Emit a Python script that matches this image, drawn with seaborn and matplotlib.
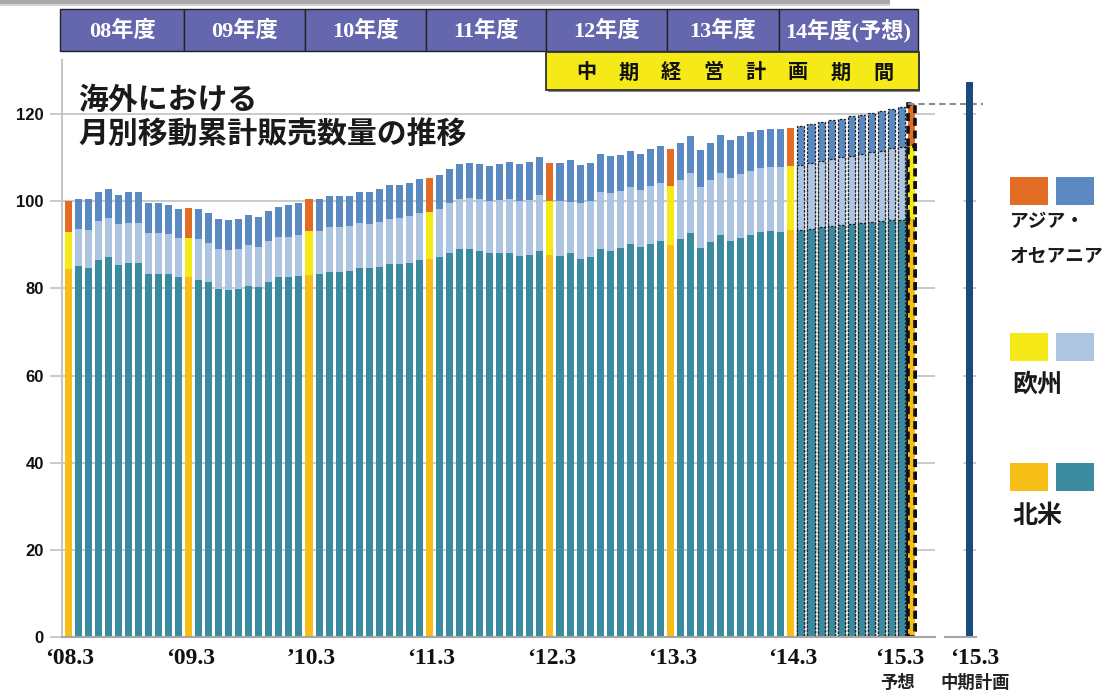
import numpy as np
import pandas as pd
import matplotlib
matplotlib.use("Agg")
import matplotlib.pyplot as plt
import matplotlib.transforms as mtransforms
from matplotlib.patches import Rectangle
import seaborn as sns

# ---------------- data ----------------
months = [str(p) for p in pd.period_range("2008-03", "2015-03", freq="M")]

na_vals = [84.4, 85.1, 84.7, 86.6, 87.1, 85.4, 85.8, 85.8, 83.4, 83.2, 83.2, 82.5,
           82.5, 82.0, 81.5, 79.9, 79.7, 79.9, 80.6, 80.2, 81.5, 82.5, 82.5, 82.8,
           83.1, 83.2, 83.7, 83.8, 84.0, 84.7, 84.7, 84.9, 85.6, 85.6, 85.8, 86.5,
           86.8, 87.1, 88.2, 89.1, 89.1, 88.6, 88.2, 88.2, 88.2, 87.5, 87.7, 88.6,
           87.7, 87.5, 88.0, 86.8, 87.3, 89.1, 88.6, 89.3, 90.2, 89.5, 90.2, 90.9,
           90.0, 91.3, 92.7, 89.3, 90.6, 92.2, 90.9, 91.6, 92.2, 92.9, 93.1, 92.9,
           93.3, 93.5, 93.7, 94.1, 94.3, 94.5, 94.8, 95.0, 95.2, 95.5, 95.7, 95.8,
           95.9]
eu_vals = [8.6, 8.5, 8.7, 8.9, 9.1, 9.4, 9.2, 9.2, 9.3, 9.5, 9.3, 9.1,
           9.1, 9.3, 8.9, 9.1, 9.0, 9.1, 9.3, 9.2, 9.4, 9.3, 9.3, 9.4,
           10.1, 10.0, 10.3, 10.2, 10.2, 10.2, 10.1, 10.4, 10.3, 10.6, 10.7, 10.9,
           10.8, 11.0, 11.5, 11.5, 11.6, 11.8, 11.9, 12.1, 12.3, 12.5, 12.6, 12.9,
           12.3, 12.5, 11.8, 12.8, 12.7, 13.1, 13.3, 13.0, 13.1, 13.1, 13.3, 13.3,
           13.5, 13.6, 13.8, 14.0, 14.3, 14.3, 14.4, 14.6, 14.7, 14.7, 14.7, 14.9,
           14.8, 14.9, 15.1, 15.1, 15.3, 15.6, 15.6, 15.8, 16.1, 16.1, 16.4, 16.6,
           16.7]
asia_vals = [7.0, 7.0, 7.0, 6.7, 6.7, 6.7, 7.0, 7.0, 6.8, 6.8, 6.7, 6.7,
             6.8, 6.8, 6.8, 6.9, 7.0, 6.9, 7.0, 7.0, 6.9, 6.9, 7.4, 7.3,
             7.3, 7.2, 7.1, 7.1, 7.1, 7.1, 7.4, 7.4, 7.8, 7.5, 7.7, 7.7,
             7.7, 7.8, 7.7, 8.0, 8.1, 8.1, 7.9, 8.2, 8.4, 8.5, 8.6, 8.6,
             8.8, 8.7, 9.6, 8.7, 8.7, 8.6, 8.5, 8.4, 8.3, 8.3, 8.4, 8.4,
             8.5, 8.5, 8.5, 8.4, 8.5, 8.7, 8.7, 8.8, 9.0, 8.7, 8.8, 8.8,
             8.7, 8.9, 8.9, 9.0, 9.0, 8.8, 9.2, 9.0, 9.0, 9.2, 9.1, 9.3,
             9.6]
plan_label = ["中期計画"]
plan_total = [127.3]

fy_labels = ["08年度", "09年度", "10年度", "11年度", "12年度", "13年度", "14年度(予想)"]
xtick_labels = ["\u201808.3", "\u201809.3", "\u201910.3", "\u201811.3",
                "\u201812.3", "\u201813.3", "\u201814.3", "\u201815.3"]
plan_tick = "\u201815.3"
y_ticks = [0, 20, 40, 60, 80, 100, 120]
legend_names = ["アジア・\nオセアニア", "欧州", "北米"]

# ---------------- style ----------------
ASIA_N, ASIA_H = "#5B89C2", "#E36C25"
EU_N, EU_H = "#ADC5E1", "#F5EA17"
NA_N, NA_H = "#3A8BA0", "#F7BE18"
PLAN_C = "#1B4A7F"
HEAD_C = "#6567AE"
GRID_C = "#C6C6C6"

W, H, DPI = 1108, 691, 100
sns.set_theme(style="white")
plt.rcParams["font.family"] = ["Noto Sans CJK JP", "DejaVu Sans"]

fig = plt.figure(figsize=(W / DPI, H / DPI), dpi=DPI)
fig.patch.set_facecolor("white")


def fx(x):
    return x / W


def fy(y):
    return 1 - y / H


AX_L, AX_R, AX_B, AX_T = 62, 935, 637, 60
ax = fig.add_axes([fx(AX_L), fy(AX_B), (AX_R - AX_L) / W, (AX_B - AX_T) / H])
ax2 = fig.add_axes([fx(945), fy(AX_B), (976 - 945) / W, (AX_B - AX_T) / H])
YMAX = (AX_B - AX_T) / 4.358

df = pd.DataFrame({"month": months, "na": na_vals, "eu": eu_vals, "asia": asia_vals})
df["eu_top"] = df["na"] + df["eu"]
df["total"] = df["eu_top"] + df["asia"]
is_march = df["month"].str.endswith("-03").to_numpy()
is_fc = (df["month"] > "2014-03").to_numpy()
last = len(df) - 1

layers = [("total", ASIA_N, ASIA_H), ("eu_top", EU_N, EU_H), ("na", NA_N, NA_H)]
for col, cn, ch in layers:
    pal = {m: (ch if mk else cn) for m, mk in zip(df["month"], is_march)}
    n0 = len(ax.patches)
    sns.barplot(data=df, x="month", y=col, hue="month", palette=pal, legend=False,
                dodge=False, width=0.7, errorbar=None, saturation=1, ax=ax)
    for p in ax.patches[n0:]:
        i = int(round(p.get_x() + p.get_width() / 2))
        p.set_linewidth(0)
        if is_fc[i]:
            if i == last:
                p.set_edgecolor("#111111")
                p.set_linewidth(2.6)
                p.set_linestyle((0, (2.2, 1.3)))
            else:
                p.set_edgecolor("#222222")
                p.set_linewidth(0.9)
                p.set_linestyle((0, (2.0, 1.2)))

ax.set_xlim(-0.6, 86.35)
ax.set_ylim(0, YMAX)
ax.set_axisbelow(True)
ax.yaxis.grid(True, color=GRID_C, lw=1.3)
ax.xaxis.grid(False)
ax.set_yticks(y_ticks)
ax.set_yticklabels([str(t) for t in y_ticks], fontsize=12, fontweight="bold",
                   family=["Liberation Sans", "DejaVu Sans"], color="#111111")
ax.tick_params(axis="y", length=9, width=1.3, color=GRID_C, pad=4, left=True)
ax.set_xticks([])
ax.set_xlabel("")
ax.set_ylabel("")
for s in ["top", "right"]:
    ax.spines[s].set_visible(False)
ax.spines["left"].set_color("#C6C6C6")
ax.spines["left"].set_linewidth(1.5)
ax.spines["bottom"].set_color("#A6A6A6")
ax.spines["bottom"].set_linewidth(1.5)

# x labels
blend = mtransforms.blended_transform_factory(ax.transData, fig.transFigure)
tick_pos = [i for i in range(len(df)) if is_march[i]]
for k, (pos, lab) in enumerate(zip(tick_pos, xtick_labels)):
    shift = -1.2 if k == len(xtick_labels) - 1 else 0.2
    ax.text(pos + shift, fy(658), lab, transform=blend, ha="center", va="center",
            fontsize=17, fontweight="bold", family=["Liberation Serif", "DejaVu Serif"],
            color="#111111")

# forecast dashed connector
tot_last = df["total"].iloc[-1]
ax.plot([last - 0.3, 91.1], [tot_last, tot_last], clip_on=False, color="#8C8C8C",
        lw=1.5, ls=(0, (3, 2)), zorder=6)

# plan axis
sns.barplot(x=plan_label, y=plan_total, color=PLAN_C, width=0.7, saturation=1,
            errorbar=None, ax=ax2)
ax2.set_xlim(-2.45, 0.65)
ax2.set_ylim(0, YMAX)
ax2.set_xticks([])
ax2.set_yticks([])
ax2.set_xlabel("")
ax2.set_ylabel("")
for s in ["top", "right", "left"]:
    ax2.spines[s].set_visible(False)
ax2.spines["bottom"].set_color("#A6A6A6")
ax2.spines["bottom"].set_linewidth(1.5)
for t in y_ticks[1:]:
    ax2.axhline(t, xmin=0.61, xmax=1.0, color=GRID_C, lw=1.3, zorder=0)
ax2.patch.set_alpha(0)
for p in ax2.patches:
    p.set_zorder(2)
    p.set_linewidth(0)

fig.text(fx(975), fy(658), plan_tick, ha="center", va="center", fontsize=17,
         fontweight="bold", family=["Liberation Serif", "DejaVu Serif"], color="#111111")
fig.text(fx(898), fy(683), "予想", ha="center", va="center", fontsize=12.5,
         fontweight="bold", color="#222222")
fig.text(fx(975), fy(683), "中期計画", ha="center", va="center", fontsize=12.5,
         fontweight="bold", color="#222222")

# title
fig.text(fx(78), fy(100), "海外における", ha="left", va="center", fontsize=21.5,
         fontweight="bold", color="#1a1a1a")
fig.text(fx(78), fy(134), "月別移動累計販売数量の推移", ha="left", va="center",
         fontsize=21.5, fontweight="bold", color="#1a1a1a")

# top shadow strip
fig.add_artist(Rectangle((0, fy(4)), fx(890), 4 / H, transform=fig.transFigure,
                         facecolor="#A9A9A9", edgecolor="none"))
fig.add_artist(Rectangle((0, fy(5.5)), fx(890), 1.5 / H, transform=fig.transFigure,
                         facecolor="#D4D4D4", edgecolor="none"))

# fiscal-year header
bounds = [60, 184, 305, 426, 546, 667, 779, 918]
for k, lab in enumerate(fy_labels):
    x0, x1 = bounds[k], bounds[k + 1]
    fig.add_artist(Rectangle((fx(x0), fy(51)), (x1 - x0) / W, 42 / H,
                             transform=fig.transFigure, facecolor=HEAD_C,
                             edgecolor="#222222", lw=1.0, zorder=10))
    fig.text(fx((x0 + x1) / 2), fy(31), lab, ha="center", va="center", fontsize=16,
             fontweight="bold", color="white",
             family=["Liberation Serif", "Noto Sans CJK JP"], zorder=11)

# mid-term plan band
fig.add_artist(Rectangle((fx(548), fy(92)), (920 - 548) / W, 38 / H,
                         transform=fig.transFigure, facecolor="#8A8A8A",
                         edgecolor="none", zorder=9))
fig.add_artist(Rectangle((fx(546), fy(90)), (919 - 546) / W, 38 / H,
                         transform=fig.transFigure, facecolor="#F5EA17",
                         edgecolor="#333333", lw=1.3, zorder=10))
band_chars = list("中期経営計画期間")
for k, ch in enumerate(band_chars):
    cx = 586 + k * (883 - 586) / (len(band_chars) - 1)
    fig.text(fx(cx), fy(72), ch, ha="center", va="center", fontsize=14.5,
             fontweight="bold", color="#111111", zorder=11)

# legend
leg_rows = [(177, ASIA_H, ASIA_N), (333, EU_H, EU_N), (463, NA_H, NA_N)]
for (y0, c1, c2) in leg_rows:
    fig.add_artist(Rectangle((fx(1010), fy(y0 + 28)), 38 / W, 28 / H,
                             transform=fig.transFigure, facecolor=c1, edgecolor="none"))
    fig.add_artist(Rectangle((fx(1056), fy(y0 + 28)), 38 / W, 28 / H,
                             transform=fig.transFigure, facecolor=c2, edgecolor="none"))
asia_lines = legend_names[0].split("\n")
fig.text(fx(1010), fy(221), asia_lines[0], ha="left", va="center", fontsize=13.5,
         fontweight="bold", color="#1a1a1a")
fig.text(fx(1010), fy(256), asia_lines[1], ha="left", va="center", fontsize=13.5,
         fontweight="bold", color="#1a1a1a")
fig.text(fx(1012), fy(385), legend_names[1], ha="left", va="center", fontsize=18,
         fontweight="bold", color="#1a1a1a")
fig.text(fx(1012), fy(516), legend_names[2], ha="left", va="center", fontsize=18,
         fontweight="bold", color="#1a1a1a")

fig.savefig("out.png", dpi=DPI, facecolor="white")
